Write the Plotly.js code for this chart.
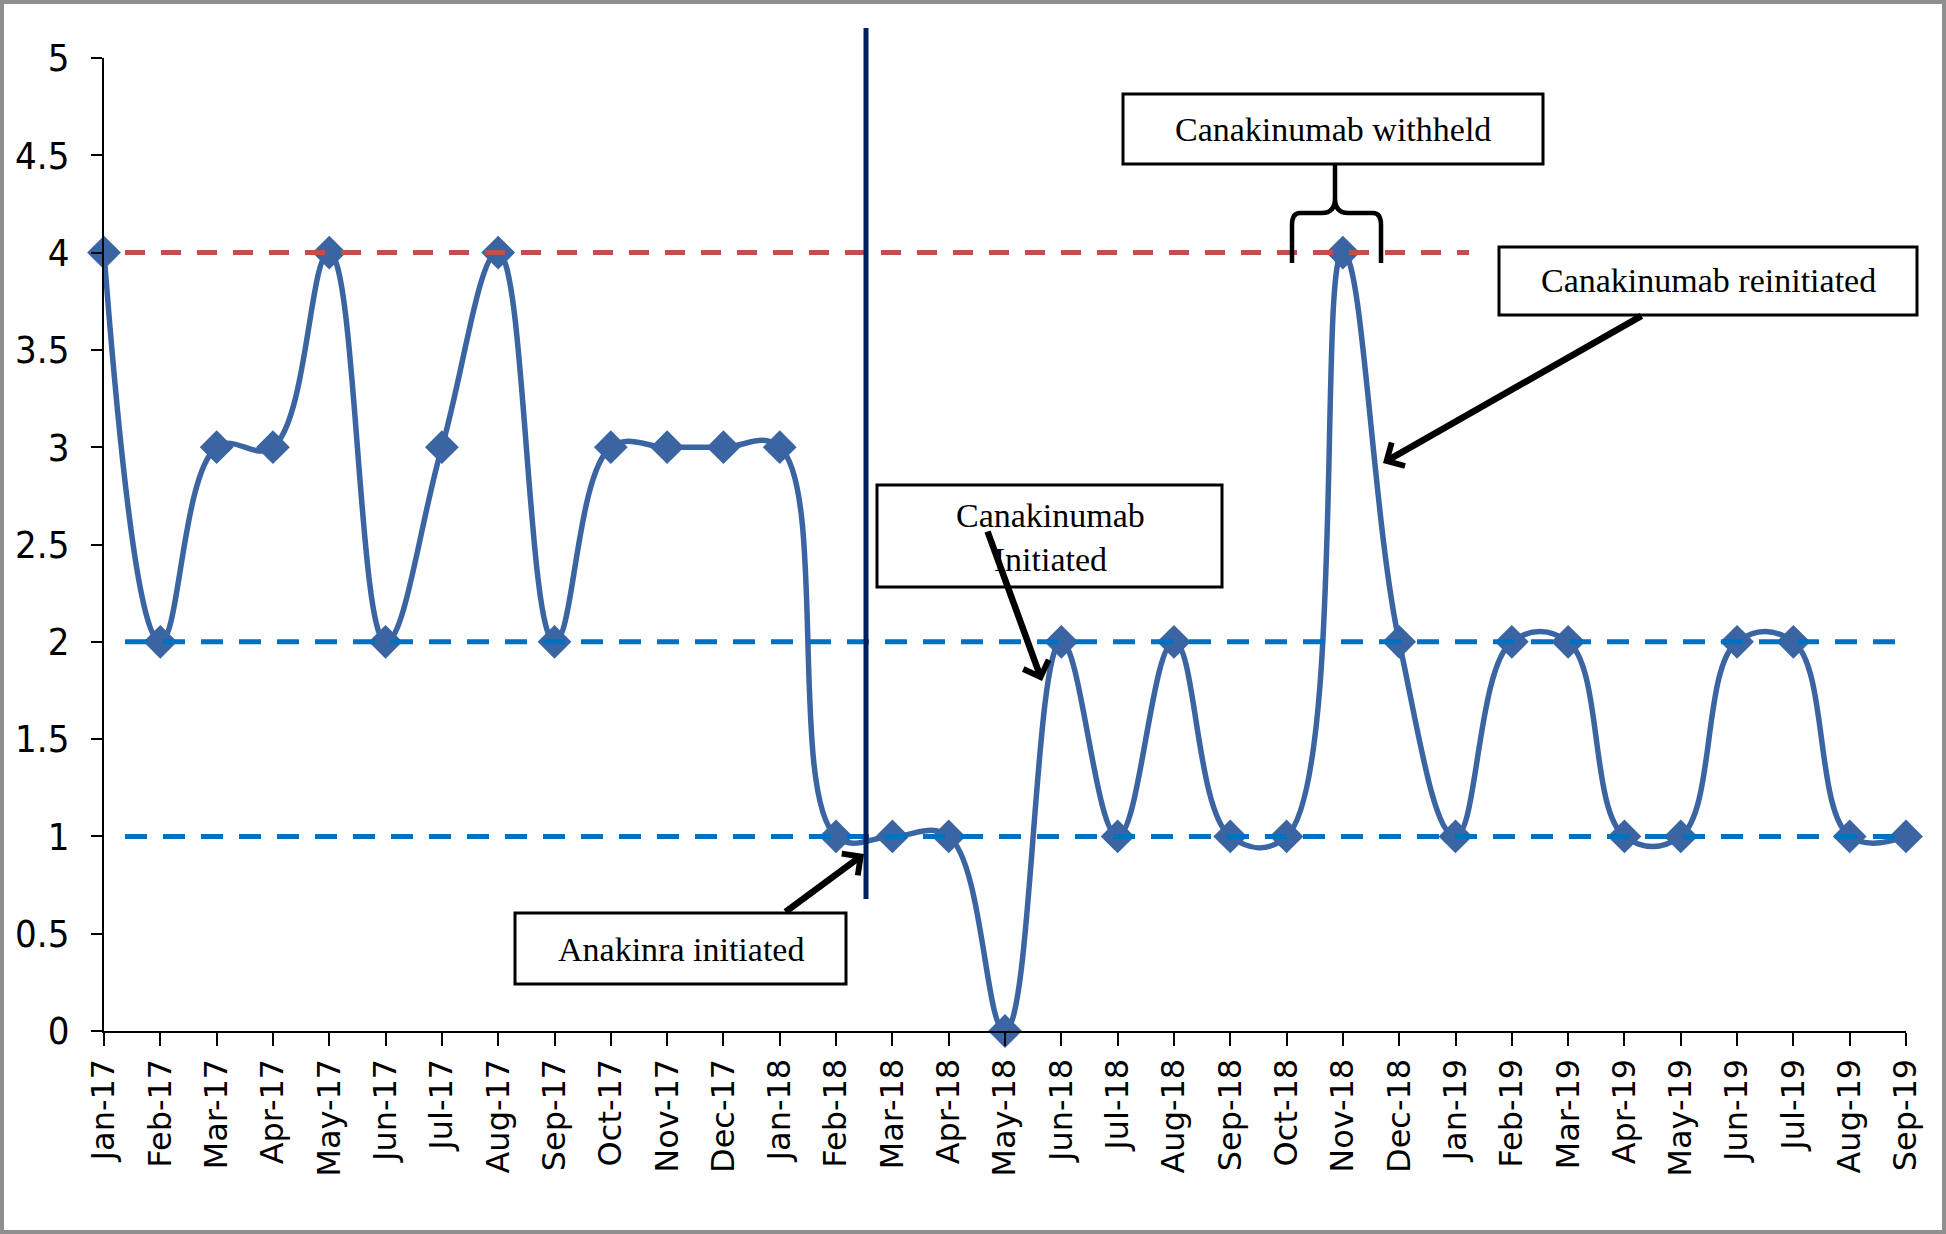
<!DOCTYPE html>
<html>
<head>
<meta charset="utf-8">
<script src="https://cdn.plot.ly/plotly-3.0.1.min.js"></script>
<style>
  html, body { margin: 0; padding: 0; background: #fff; }
  #chart { width: 1946px; height: 1234px; }
  #frame { position: absolute; left: 0; top: 0; width: 1946px; height: 1234px;
           box-sizing: border-box; border: 4px solid #8f8f8f; pointer-events: none; }
</style>
</head>
<body>
<div id="chart"></div>
<div id="frame"></div>
<script>
document.addEventListener("DOMContentLoaded", function () {
    // monthly scores
    const months = [
        "Jan-17", "Feb-17", "Mar-17", "Apr-17", "May-17", "Jun-17", "Jul-17", "Aug-17",
        "Sep-17", "Oct-17", "Nov-17", "Dec-17", "Jan-18", "Feb-18", "Mar-18", "Apr-18",
        "May-18", "Jun-18", "Jul-18", "Aug-18", "Sep-18", "Oct-18", "Nov-18", "Dec-18",
        "Jan-19", "Feb-19", "Mar-19", "Apr-19", "May-19", "Jun-19", "Jul-19", "Aug-19", "Sep-19"
    ];
    const scores = [
        4, 2, 3, 3, 4, 2, 3, 4,
        2, 3, 3, 3, 3, 1, 1, 1,
        0, 2, 1, 2, 1, 1, 4, 2,
        1, 2, 2, 1, 1, 2, 2, 1, 1
    ];
    const yTicks = [0, 0.5, 1, 1.5, 2, 2.5, 3, 3.5, 4, 4.5, 5];
    const upperLimit = 4;
    const targetLevels = [2, 1];

    // figure pixel -> paper helpers for the drawn overlays
    const L = 104, T = 58, PW = 1802, PH = 973;
    const px = X => (X - L) / PW;
    const py = Y => (T + PH - Y) / PH;
    const pyv = v => v / 5;

    const trace = {
        x: months,
        y: scores,
        type: "scatter",
        mode: "lines+markers",
        line: { color: "#3b65a2", width: 5.5, shape: "spline", smoothing: 1.15 },
        marker: { symbol: "diamond", size: 26, color: "#3b65a2" },
        cliponaxis: false,
        showlegend: false,
        hoverinfo: "x+y",
    };

    const shapes = [];
    shapes.push({
        type: "line", xref: "paper", yref: "paper",
        x0: px(125), x1: px(1469), y0: pyv(upperLimit), y1: pyv(upperLimit),
        line: { color: "#c0504d", width: 5, dash: "20px,16px" },
    });
    targetLevels.forEach(function (v) {
        shapes.push({
            type: "line", xref: "paper", yref: "paper",
            x0: px(125), x1: px(1911), y0: pyv(v), y1: pyv(v),
            line: { color: "#0070c0", width: 5, dash: "22px,16px" },
        });
    });
    // treatment start marker
    shapes.push({
        type: "line", xref: "paper", yref: "paper",
        x0: px(866), x1: px(866), y0: py(899), y1: py(28),
        line: { color: "#002060", width: 5 },
    });

    // text boxes
    const boxes = [
        [1123, 94, 1543, 164],
        [1499, 247, 1917, 315],
        [877, 485, 1222, 587],
        [515, 913, 846, 984],
    ];
    boxes.forEach(function (b) {
        shapes.push({
            type: "rect", xref: "paper", yref: "paper", layer: "above",
            x0: px(b[0]), x1: px(b[2]), y0: py(b[3]), y1: py(b[1]),
            line: { color: "#000", width: 3 }, fillcolor: "rgba(255,255,255,0)",
        });
    });

    // curly brace under "Canakinumab withheld"
    const brace = [
        "M", px(1335), py(164),
        "L", px(1335), py(198),
        "Q", px(1335), py(213), px(1322), py(213),
        "L", px(1300), py(213),
        "Q", px(1292), py(213), px(1292), py(225),
        "L", px(1292), py(263),
        "M", px(1335), py(198),
        "Q", px(1335), py(213), px(1348), py(213),
        "L", px(1373), py(213),
        "Q", px(1381), py(213), px(1381), py(225),
        "L", px(1381), py(263),
    ];
    let d = "";
    for (let i = 0; i < brace.length; ) {
        if (typeof brace[i] === "string") { d += brace[i] + " "; i++; }
        else { d += brace[i].toFixed(5) + "," + brace[i + 1].toFixed(5) + " "; i += 2; }
    }
    shapes.push({
        type: "path", xref: "paper", yref: "paper", layer: "above",
        path: d, line: { color: "#000", width: 4.5 },
    });

    const serif = { family: "Liberation Serif, Times New Roman, serif", size: 34, color: "#000" };
    const textAt = (t, X, Y) => ({
        text: t, xref: "paper", yref: "paper", x: px(X), y: py(Y),
        xanchor: "center", yanchor: "middle", showarrow: false, font: serif,
    });
    const arrow = (tx, ty, hx, hy) => ({
        text: "", xref: "paper", yref: "paper", x: px(hx), y: py(hy),
        axref: "pixel", ayref: "pixel", ax: tx - hx, ay: ty - hy,
        showarrow: true, arrowhead: 4, arrowsize: 0.8, arrowwidth: 6.5,
        arrowcolor: "#000", standoff: 0, startstandoff: 0,
    });

    const annotations = [
        textAt("Canakinumab withheld", 1333, 129),
        textAt("Canakinumab reinitiated", 1708, 281),
        textAt("Canakinumab<br>Initiated", 1050, 537),
        textAt("Anakinra initiated", 681, 949),
        arrow(1643, 315, 1383, 463),
        arrow(987, 530, 1042, 681),
        arrow(784, 913, 864, 854),
    ];

    const layout = {
        width: 1946,
        height: 1234,
        margin: { l: L, r: 1946 - L - PW, t: T, b: 1234 - T - PH },
        paper_bgcolor: "#fff",
        plot_bgcolor: "#fff",
        showlegend: false,
        xaxis: {
            type: "category",
            range: [0, months.length - 1],
            showgrid: false,
            zeroline: false,
            showline: true, linecolor: "#000", linewidth: 2,
            ticks: "outside", ticklen: 13, tickwidth: 2, tickcolor: "#000",
            tickangle: -90,
            tickfont: { family: "DejaVu Sans, Verdana, sans-serif", size: 32, color: "#000" },
        },
        yaxis: {
            range: [0, 5],
            tickvals: yTicks,
            ticktext: yTicks.map(String),
            showgrid: false,
            zeroline: false,
            showline: true, linecolor: "#000", linewidth: 2,
            ticks: "outside", ticklen: 11, tickwidth: 2, tickcolor: "#000",
            ticklabelstandoff: 14,
            tickfont: { family: "Liberation Sans Narrow, DejaVu Sans Condensed, Roboto, sans-serif", size: 38, color: "#000" },
        },
        shapes: shapes,
        annotations: annotations,
    };

    Plotly.newPlot("chart", [trace], layout, { displayModeBar: false, staticPlot: true });
});
</script>
</body>
</html>
